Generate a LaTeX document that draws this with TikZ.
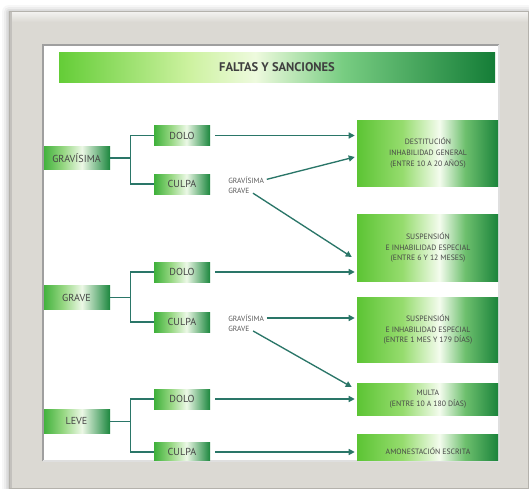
\documentclass[tikz,border=0pt]{standalone}
\usepackage{fontspec}
\setmainfont{PT Sans}
\usetikzlibrary{arrows.meta,calc}

% palette
\definecolor{linkteal}{RGB}{42,118,104}
\definecolor{framegrey}{RGB}{219,217,211}
\definecolor{frameedge}{RGB}{180,178,172}
\definecolor{labelgrey}{RGB}{70,70,70}
\definecolor{gA}{RGB}{92,196,52}
\definecolor{gB}{RGB}{150,220,110}
\definecolor{gC}{RGB}{244,252,238}
\definecolor{gD}{RGB}{110,192,110}
\definecolor{gE}{RGB}{24,130,58}
\definecolor{tA}{RGB}{100,205,55}
\definecolor{tB}{RGB}{205,242,160}
\definecolor{tC}{RGB}{238,250,222}
\definecolor{tD}{RGB}{120,205,130}
\definecolor{tE}{RGB}{20,125,55}
\definecolor{kA}{RGB}{62,176,58}
\definecolor{kB}{RGB}{150,215,130}
\definecolor{kC}{RGB}{236,248,230}
\definecolor{kE}{RGB}{28,135,62}

% TikZ fits a path's box into the 25bp--75bp part of a shading
\pgfdeclarehorizontalshading{titleshade}{100bp}{color(0bp)=(tA); color(25bp)=(tA); color(40bp)=(tB); color(47.5bp)=(tC); color(57.5bp)=(tD); color(75bp)=(tE); color(100bp)=(tE)}
\pgfdeclarehorizontalshading{keyshade}{100bp}{color(0bp)=(kA); color(25bp)=(kA); color(40bp)=(kB); color(54bp)=(kC); color(75bp)=(kE); color(100bp)=(kE)}
\pgfdeclarehorizontalshading{sanshade}{100bp}{color(0bp)=(gA); color(25bp)=(gA); color(41bp)=(gB); color(54bp)=(gC); color(63bp)=(gD); color(75bp)=(gE); color(100bp)=(gE)}

\begin{document}
\begin{tikzpicture}[x=0.75pt,y=-0.75pt,
  catbox/.style={shading=keyshade, minimum width=50.25pt, minimum height=17.6pt,
    inner sep=0pt, text=labelgrey, font=\fontsize{7.6}{8}\selectfont},
  modebox/.style={shading=keyshade, minimum width=42pt, minimum height=15pt,
    inner sep=0pt, text=labelgrey, font=\fontsize{7.6}{8}\selectfont},
  sanbox/.style={shading=sanshade, minimum width=106.5pt, inner sep=0pt,
    align=center, text=labelgrey, font=\fontsize{5.8}{8.2}\selectfont},
  lbl/.style={inner sep=0pt, anchor=west, text=labelgrey!90,
    font=\fontsize{5.6}{6}\selectfont},
  link/.style={draw=linkteal, line width=1pt},
  arrow/.style={link, -{Triangle[length=4.5pt,width=4.5pt]}}]

\useasboundingbox (0,0) rectangle (529,489);
\fill[white] (0,0) rectangle (529,489);

% soft shadow around the frame
\foreach \d/\o in {7/0.03,5/0.04,3/0.05,1.5/0.06}
  \fill[black,opacity=\o,rounded corners=\d*0.75pt] (9-\d,11-\d+1) rectangle (528+\d,488+\d);

% outer frame
\fill[framegrey] (9,11) rectangle (528,488);
\fill[top color=white!70!framegrey, bottom color=framegrey] (9,11) rectangle (528,22);
\fill[frameedge!80] (9,11) rectangle (12,488);
\draw[frameedge, line width=0.6pt] (9,11) rectangle (528,488);

% inner panel
\fill[white] (43,45) rectangle (499,461);
\draw[gray!75, line width=1.4pt] (43,461) -- (43,45) -- (499,45);
\draw[gray!25, line width=1pt] (499,45) -- (499,461) -- (43,461);

\begin{scope}
\clip (44,46) rectangle (498,460);

% heading bar
\node[shading=titleshade, minimum width=327pt, minimum height=22.5pt, inner sep=0pt,
  text=labelgrey!90!black, font=\fontsize{9.4}{10}\selectfont\bfseries]
  (title) at (277,67) {FALTAS Y SANCIONES};

% classes of fault
\node[catbox] (gravisima) at (76.5,158) {GRAVÍSIMA};
\node[catbox] (grave)     at (76.5,297.5) {GRAVE};
\node[catbox] (leve)      at (76.5,421.5) {LEVE};

% dolo / culpa
\node[modebox] (dolo1)  at (182,135.5) {DOLO};
\node[modebox] (culpa1) at (182,184) {CULPA};
\node[modebox] (dolo2)  at (182,272) {DOLO};
\node[modebox] (culpa2) at (182,322) {CULPA};
\node[modebox] (dolo3)  at (182,399) {DOLO};
\node[modebox] (culpa3) at (182,452) {CULPA};

% sanctions
\node[sanbox, minimum height=49.5pt]  (destitucion) at (428,153)
  {DESTITUCIÓN\\INHABILIDAD GENERAL\\(ENTRE 10 A 20 AÑOS)};
\node[sanbox, minimum height=50.25pt] (suspA) at (428,247.5)
  {SUSPENSIÓN\\E INHABILIDAD ESPECIAL\\(ENTRE 6 Y 12 MESES)};
\node[sanbox, minimum height=48.75pt] (suspB) at (428,329.5)
  {SUSPENSIÓN\\E INHABILIDAD ESPECIAL\\(ENTRE 1 MES Y 179 DÍAS)};
\node[sanbox, minimum height=24pt]    (multa) at (428,399)
  {MULTA\\(ENTRE 10 A 180 DÍAS)};
\node[sanbox, minimum height=27pt]    (amon) at (428,452)
  {\raisebox{1.5pt}{AMONESTACIÓN ESCRITA}};

% culpa sub-labels
\node[lbl] (gvA) at (228,180) {GRAVÍSIMA};
\node[lbl] (grA) at (228,191) {GRAVE};
\node[lbl] (gvB) at (228,318) {GRAVÍSIMA};
\node[lbl] (grB) at (228,329) {GRAVE};

% brackets
\foreach \c/\d/\u in {gravisima/dolo1/culpa1, grave/dolo2/culpa2, leve/dolo3/culpa3}{
  \draw[link] (\c.east) -- ++(20,0);
  \draw[link] (\d.west) -| ($(\c.east)+(20,0)$) |- (\u.west);
}

% arrows to sanctions
\draw[arrow, shorten <=3.75pt, shorten >=1.5pt] (dolo1.east) -- (dolo1.east -| destitucion.west);
\draw[arrow, shorten <=3.75pt, shorten >=1.5pt] (dolo2.east) -- (dolo2.east -| suspA.west);
\draw[arrow, shorten <=3.75pt, shorten >=1.5pt] (dolo3.east) -- (dolo3.east -| multa.west);
\draw[arrow, shorten <=3.75pt, shorten >=1.5pt] (culpa3.east) -- (culpa3.east -| amon.west);

\draw[arrow, shorten <=2pt] (gvA.east) -- ($(destitucion.west)+(-2,4)$);
\draw[arrow, shorten <=3pt] (grA.east) -- ($(suspA.west)+(-5,9.5)$);
\draw[arrow, shorten <=2pt] (gvB.east) -- ($(suspB.west)+(-2,-11.5)$);
\draw[arrow, shorten <=3pt] (grB.east) -- ($(multa.west)+(-5,-12)$);
\end{scope}

\end{tikzpicture}
\end{document}
